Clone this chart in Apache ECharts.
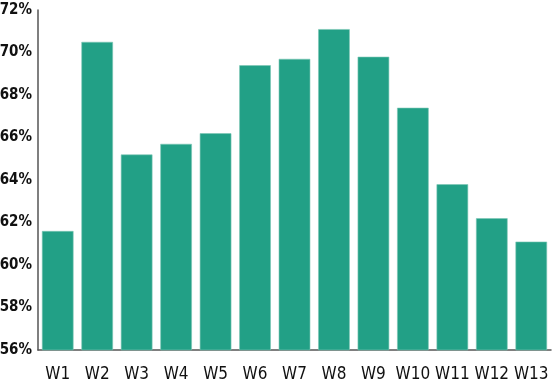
<!DOCTYPE html>
<html>
<head>
<meta charset="utf-8">
<script src="https://cdn.jsdelivr.net/npm/echarts@6.0.0/dist/echarts.min.js"></script>
<style>
  html, body { margin: 0; padding: 0; background: #fff; }
  #chart { width: 553px; height: 386px; }
</style>
</head>
<body>
<div id="chart"></div>
<script>
// 周次与数值（%）
const weeks = ['W1', 'W2', 'W3', 'W4', 'W5', 'W6', 'W7', 'W8', 'W9', 'W10', 'W11', 'W12', 'W13'];
const rates = [61.6, 70.5, 65.2, 65.7, 66.2, 69.4, 69.7, 71.1, 69.8, 67.4, 63.8, 62.2, 61.1];

const chart = echarts.init(document.getElementById('chart'));

const labelFont = '"Liberation Sans Narrow", "DejaVu Sans Condensed", sans-serif';

const option = {
    animation: false,
    grid: {
        left: 38,
        right: 2,
        top: 10,
        bottom: 36,
        outerBoundsMode: 'none',
        containLabel: false
    },
    xAxis: {
        type: 'category',
        data: weeks,
        axisLine: { lineStyle: { color: '#555', width: 1.5 } },
        axisTick: { inside: true, length: 8, lineStyle: { color: '#555' } },
        axisLabel: {
            interval: 0,
            color: '#111',
            fontFamily: labelFont,
            fontSize: 17,
            margin: 16
        }
    },
    yAxis: {
        type: 'value',
        min: 56,
        max: 72,
        interval: 2,
        splitLine: { show: false },
        axisTick: { show: false },
        axisLine: { show: true, lineStyle: { color: '#555', width: 1.5 } },
        axisLabel: {
            color: '#111',
            fontFamily: labelFont,
            fontWeight: 'bold',
            fontSize: 15,
            margin: 6,
            formatter: '{value}%'
        }
    },
    series: [
        {
            type: 'bar',
            data: rates,
            barCategoryGap: '20%',
            itemStyle: {
                color: '#22a086',
                borderColor: '#7cc6b6',
                borderWidth: 0.6
            }
        }
    ]
};

chart.setOption(option);
</script>
</body>
</html>
